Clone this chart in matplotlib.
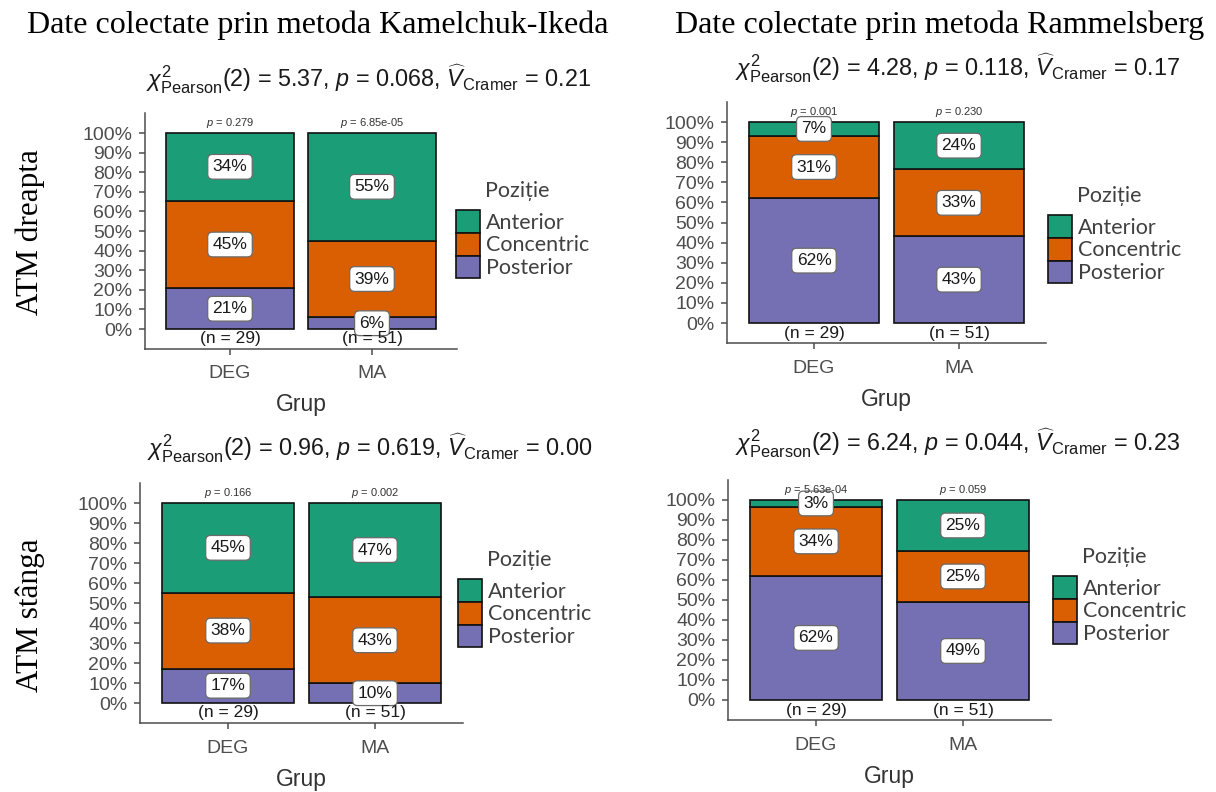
import numpy as np
import matplotlib
matplotlib.use("Agg")
import matplotlib.pyplot as plt
from matplotlib.patches import Patch

plt.rcParams['font.family'] = ['Liberation Sans', 'DejaVu Sans']
plt.rcParams['mathtext.fontset'] = 'custom'
plt.rcParams['mathtext.rm'] = 'Liberation Sans'
plt.rcParams['mathtext.it'] = 'Liberation Sans:italic'
plt.rcParams['mathtext.bf'] = 'Liberation Sans:bold'

# --- date ---
groups = ['DEG', 'MA']
positions = ['Posterior', 'Concentric', 'Anterior']   # de jos in sus
pos_colors = ['#7570B3', '#D95F02', '#1B9E77']

# numar de cazuri pe grup: [Posterior, Concentric, Anterior]
ki_dreapta = [[6, 13, 10], [3, 20, 28]]
ki_stanga = [[5, 11, 13], [5, 22, 24]]
ram_dreapta = [[18, 9, 2], [22, 17, 12]]
ram_stanga = [[18, 10, 1], [25, 13, 13]]

# statistici chi-patrat: (chi2, p, V Cramer)
ki_dreapta_stats = ('5.37', '0.068', '0.21')
ki_stanga_stats = ('0.96', '0.619', '0.00')
ram_dreapta_stats = ('4.28', '0.118', '0.17')
ram_stanga_stats = ('6.24', '0.044', '0.23')

# p pe fiecare bara (test de proportii)
ki_dreapta_p = ['0.279', '6.85e-05']
ki_stanga_p = ['0.166', '0.002']
ram_dreapta_p = ['0.001', '0.230']
ram_stanga_p = ['5.63e-04', '0.059']

col_titles = ['Date colectate prin metoda Kamelchuk-Ikeda',
              'Date colectate prin metoda Rammelsberg']
row_titles = ['ATM dreapta', 'ATM stânga']

W, H = 1216, 792
fig = plt.figure(figsize=(W / 100, H / 100), dpi=100)


def fx(px):
    return px / W


def fy(py):
    return 1 - py / H


def draw_panel(counts, stats, pvals, geo, title_xy, leg_xy):
    xc, u, y0, v = geo
    ax = fig.add_axes([fx(xc - 0.6 * u), fy(y0 + 0.1 * v), 2.2 * u / W, 1.2 * v / H])
    for i, g in enumerate(groups):
        n = sum(counts[i])
        bottom = 0.0
        for j, pos in enumerate(positions):
            frac = counts[i][j] / n
            ax.bar(i + 1, frac, 0.9, bottom=bottom, color=pos_colors[j],
                   edgecolor='#111111', linewidth=1.2)
            ax.text(i + 1, bottom + frac / 2, f"{int(frac * 100 + 0.5)}%",
                    ha='center', va='center', fontsize=12.5, color='#1a1a1a',
                    bbox=dict(boxstyle='round,pad=0.28', fc='white', ec='#6a6a6a', lw=0.9))
            bottom += frac
        ax.text(i + 1, 1.05, r"$\mathit{p}$ = " + pvals[i], ha='center', va='center',
                fontsize=8, color='#333333')
        ax.text(i + 1, -0.05, f"(n = {n})", ha='center', va='center',
                fontsize=12.5, color='#1a1a1a')

    ax.set_xlim(0.4, 2.6)
    ax.set_ylim(-0.1, 1.1)
    ticks = np.arange(0, 11) / 10
    ax.set_yticks(ticks)
    ax.set_yticklabels([f"{int(round(t * 100))}%" for t in ticks])
    ax.set_xticks([1, 2])
    ax.set_xticklabels(groups)
    ax.tick_params(axis='both', direction='out', length=4, width=1.1,
                   colors='#4D4D4D', labelsize=14)
    ax.tick_params(axis='y', pad=5)
    ax.tick_params(axis='x', pad=8)
    ax.set_xlabel('Grup', fontsize=16.5, color='#333333', labelpad=8)
    for s in ['top', 'right']:
        ax.spines[s].set_visible(False)
    for s in ['left', 'bottom']:
        ax.spines[s].set_color('#4D4D4D')
        ax.spines[s].set_linewidth(1.1)

    chi, p, vc = stats
    title = (r"$\chi^2_{\mathrm{Pearson}}$(2) = " + chi + r", $\mathit{p}$ = " + p +
             r", $\widehat{\mathit{V}}_{\mathrm{Cramer}}$ = " + vc)
    fig.text(fx(title_xy[0]), fy(title_xy[1]), title, ha='center', va='center',
             fontsize=16.8, color='#1a1a1a')

    # legenda: Anterior sus, Posterior jos
    handles = [Patch(facecolor=pos_colors[j], edgecolor='#111111', linewidth=1.2, label=positions[j])
               for j in [2, 1, 0]]
    lx, ly = leg_xy
    fig.legend(handles=handles, loc='upper left', bbox_to_anchor=(fx(lx), fy(ly)),
               frameon=False, borderpad=0, borderaxespad=0, labelspacing=0.0,
               handlelength=1.1, handleheight=1.25, handletextpad=0.3,
               prop={'family': ['Lato', 'DejaVu Sans'], 'size': 15.5},
               labelcolor='#404040')
    fig.text(fx(lx + 29), fy(ly - 19), 'Poziție', ha='left', va='center',
             family=['Lato', 'DejaVu Sans'], fontsize=15.5, color='#404040')
    return ax


draw_panel(ki_dreapta, ki_dreapta_stats, ki_dreapta_p, (230, 142, 329, 196), (368, 79), (456, 210))
draw_panel(ram_dreapta, ram_dreapta_stats, ram_dreapta_p, (814, 145, 323, 201), (957, 68), (1048, 215))
draw_panel(ki_stanga, ki_stanga_stats, ki_stanga_p, (228, 147, 703, 200), (370, 448), (458, 579))
draw_panel(ram_stanga, ram_stanga_stats, ram_stanga_p, (816, 147, 700, 200), (957, 443), (1053, 576))

fig.text(fx(318), fy(25), col_titles[0], ha='center', va='center',
         family='Liberation Serif', fontsize=23, color='black')
fig.text(fx(940), fy(25), col_titles[1], ha='center', va='center',
         family='Liberation Serif', fontsize=23, color='black')
fig.text(fx(30), fy(232), row_titles[0], ha='center', va='center', rotation=90,
         family='Liberation Serif', fontsize=22.5, color='black')
fig.text(fx(30), fy(615), row_titles[1], ha='center', va='center', rotation=90,
         family='Liberation Serif', fontsize=22.5, color='black')

fig.savefig('out.png', dpi=100)
